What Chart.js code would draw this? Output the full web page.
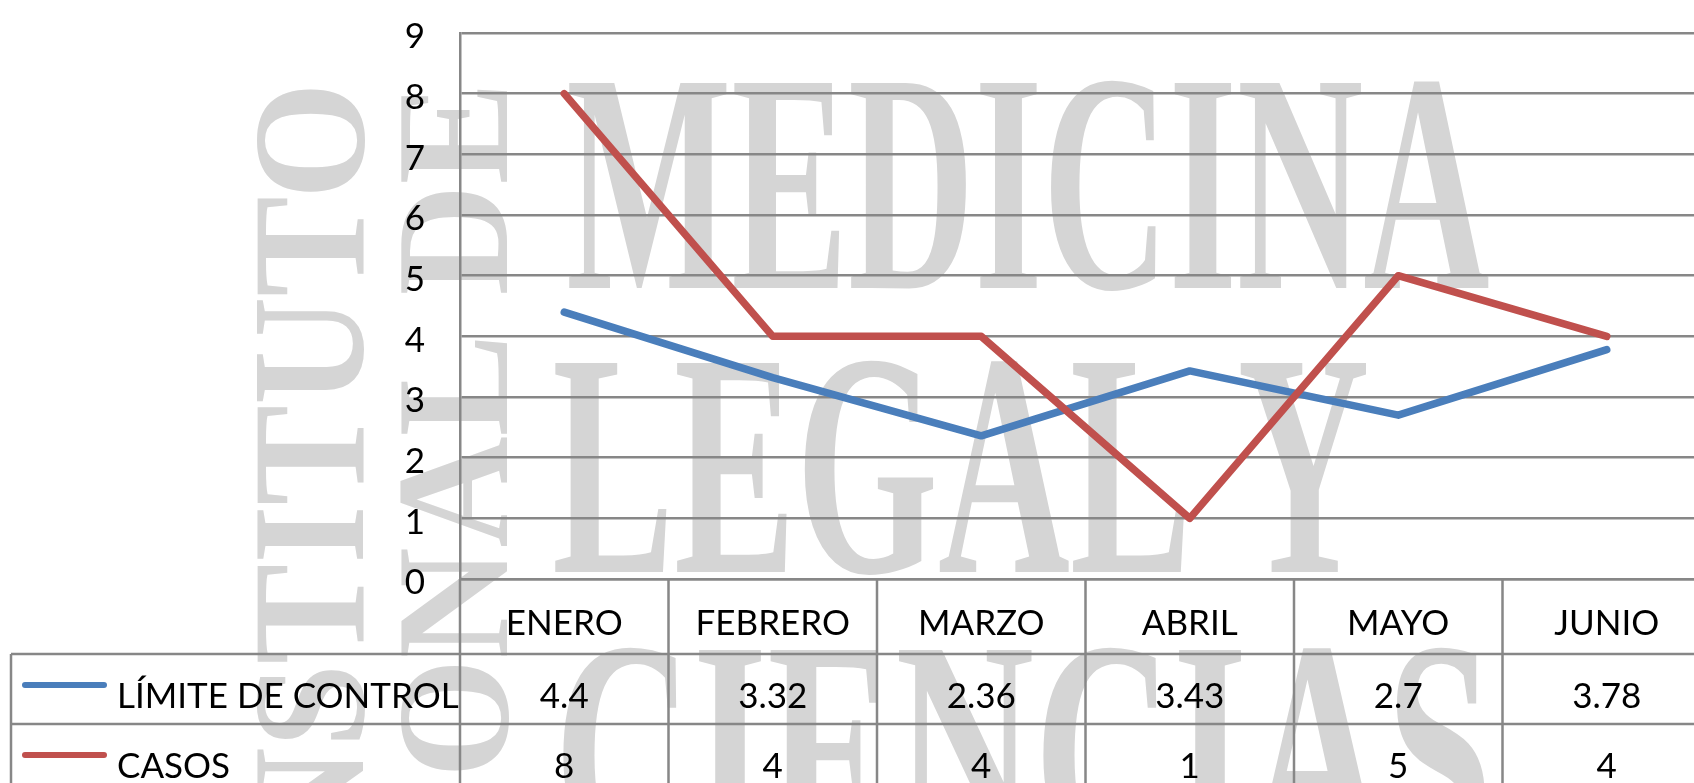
<!DOCTYPE html>
<html>
<head>
<meta charset="utf-8">
<script src="https://cdn.jsdelivr.net/npm/chart.js@4.4.1/dist/chart.umd.min.js"></script>
<style>
  html, body { margin: 0; padding: 0; background: #ffffff; overflow: hidden; width: 1694px; height: 783px; }
  #wrap { position: absolute; left: 0; top: 0; width: 1712px; height: 800px; }
</style>
</head>
<body>
<div id="wrap"><canvas id="c" width="1712" height="800"></canvas></div>
<script>
// ---- data ----
const categories = ['ENERO', 'FEBRERO', 'MARZO', 'ABRIL', 'MAYO', 'JUNIO'];
const seriesNames = ['LÍMITE DE CONTROL', 'CASOS'];
const limiteControl = [4.4, 3.32, 2.36, 3.43, 2.7, 3.78];
const casos = [8, 4, 4, 1, 5, 4];
const yTickValues = [0, 1, 2, 3, 4, 5, 6, 7, 8, 9];

// ---- styles ----
const FONT = 'Lato, "Open Sans", sans-serif';
const SERIF = '"Liberation Serif", "DejaVu Serif", serif';
const GRID = '#878787';
const BLUE = '#4A7EBB';
const RED = '#C0504D';
const TEXT_SIZE = 35;

// watermark behind the chart
const watermark = {
  id: 'watermark',
  beforeDraw(chart) {
    const ctx = chart.ctx;
    ctx.save();
    ctx.fillStyle = '#d5d5d5';
    const horiz = [
      { t: 'MEDICINA', l: 569, r: 1489, top: 83, base: 288 },
      { t: 'LEGAL Y', l: 555, r: 1366, top: 363, base: 572 },
      { t: 'CIENCIAS', l: 563, r: 1485, top: 650, base: 857 }
    ];
    for (const w of horiz) {
      const size = (w.base - w.top) / 0.655;
      ctx.font = 'bold ' + size + 'px ' + SERIF;
      ctx.textAlign = 'left';
      ctx.textBaseline = 'alphabetic';
      const m = ctx.measureText(w.t);
      const inkW = m.actualBoundingBoxLeft + m.actualBoundingBoxRight;
      const sx = (w.r - w.l) / inkW;
      ctx.save();
      ctx.translate(w.l, w.base);
      ctx.scale(sx, 1);
      ctx.fillText(w.t, m.actualBoundingBoxLeft, 0);
      ctx.restore();
    }
    const vert = [
      { t: 'INSTITUTO', base: 363, end: 82 },
      { t: 'NACIONAL DE', base: 507, end: 82 }
    ];
    for (const w of vert) {
      ctx.save();
      ctx.font = '160px ' + SERIF;
      const regW = ctx.measureText(w.t).width;
      ctx.font = 'bold 160px ' + SERIF;
      const boldW = ctx.measureText(w.t).width;
      ctx.translate(w.base, w.end);
      ctx.rotate(-Math.PI / 2);
      ctx.scale(regW / boldW, 1);
      ctx.textAlign = 'right';
      ctx.textBaseline = 'alphabetic';
      ctx.fillText(w.t, 0, 0);
      ctx.restore();
    }
    ctx.restore();
  }
};

// data table under the plot (Excel style)
const dataTable = {
  id: 'dataTable',
  afterDraw(chart) {
    const ctx = chart.ctx;
    const xs = chart.scales.x;
    const area = chart.chartArea;
    const n = chart.data.labels.length;
    const colW = xs.getPixelForValue(1) - xs.getPixelForValue(0);
    const hdrBottom = area.bottom + 75;
    const rowH = 70;
    const tableLeft = 11;
    const dsets = chart.data.datasets;
    const bottom = hdrBottom + rowH * dsets.length;
    ctx.save();
    ctx.strokeStyle = GRID;
    ctx.lineWidth = 2.5;
    ctx.beginPath();
    for (let i = 0; i <= dsets.length; i++) {
      const y = hdrBottom + i * rowH;
      ctx.moveTo(tableLeft, y);
      ctx.lineTo(area.right, y);
    }
    for (let j = 0; j <= n; j++) {
      const x = xs.getPixelForValue(0) - colW / 2 + j * colW;
      ctx.moveTo(x, area.bottom);
      ctx.lineTo(x, bottom);
    }
    ctx.moveTo(tableLeft, hdrBottom);
    ctx.lineTo(tableLeft, bottom);
    ctx.stroke();

    ctx.fillStyle = '#000';
    ctx.font = TEXT_SIZE + 'px ' + FONT;
    ctx.textBaseline = 'alphabetic';
    dsets.forEach((ds, i) => {
      const rowTop = hdrBottom + i * rowH;
      const base = rowTop + 54;
      // legend key
      ctx.save();
      ctx.strokeStyle = ds.borderColor;
      ctx.lineWidth = 6;
      ctx.lineCap = 'round';
      ctx.beginPath();
      ctx.moveTo(25, rowTop + 31);
      ctx.lineTo(104, rowTop + 31);
      ctx.stroke();
      ctx.restore();
      ctx.textAlign = 'left';
      ctx.fillText(ds.label, 117, base);
      ctx.textAlign = 'center';
      ds.data.forEach((v, j) => {
        ctx.fillText(String(v), xs.getPixelForValue(j), base);
      });
    });
    ctx.restore();
  }
};

new Chart(document.getElementById('c'), {
  type: 'line',
  data: {
    labels: categories,
    datasets: [
      {
        label: seriesNames[0],
        data: limiteControl,
        borderColor: BLUE,
        backgroundColor: BLUE,
        borderWidth: 7.5,
        pointRadius: 0,
        borderCapStyle: 'round',
        borderJoinStyle: 'round',
        tension: 0,
        order: 1
      },
      {
        label: seriesNames[1],
        data: casos,
        borderColor: RED,
        backgroundColor: RED,
        borderWidth: 7.5,
        pointRadius: 0,
        borderCapStyle: 'round',
        borderJoinStyle: 'round',
        tension: 0,
        order: 0
      }
    ]
  },
  options: {
    responsive: false,
    animation: false,
    layout: { padding: { top: 33, right: 1, left: 0, bottom: 0 } },
    plugins: { legend: { display: false }, tooltip: { enabled: false } },
    scales: {
      x: {
        type: 'category',
        offset: true,
        grid: { display: false, drawTicks: false },
        border: { display: true, color: GRID, width: 2.5 },
        ticks: {
          color: '#000',
          font: { family: FONT, size: TEXT_SIZE },
          padding: 24,
          maxRotation: 0,
          autoSkip: false
        },
        afterFit(scale) { scale.height = 221; scale.paddingLeft = 0; scale.paddingRight = 0; }
      },
      y: {
        min: 0,
        max: 9,
        afterBuildTicks(scale) { scale.ticks = yTickValues.map(v => ({ value: v })); },
        grid: { color: GRID, lineWidth: 2.5, drawTicks: false },
        border: { display: true, color: GRID, width: 2.5 },
        ticks: {
          color: '#000',
          font: { family: FONT, size: TEXT_SIZE },
          padding: 35,
          labelOffset: 4
        },
        afterFit(scale) { scale.width = 460; scale.paddingTop = 0; scale.paddingBottom = 0; }
      }
    }
  },
  plugins: [watermark, dataTable]
});
</script>
</body>
</html>
